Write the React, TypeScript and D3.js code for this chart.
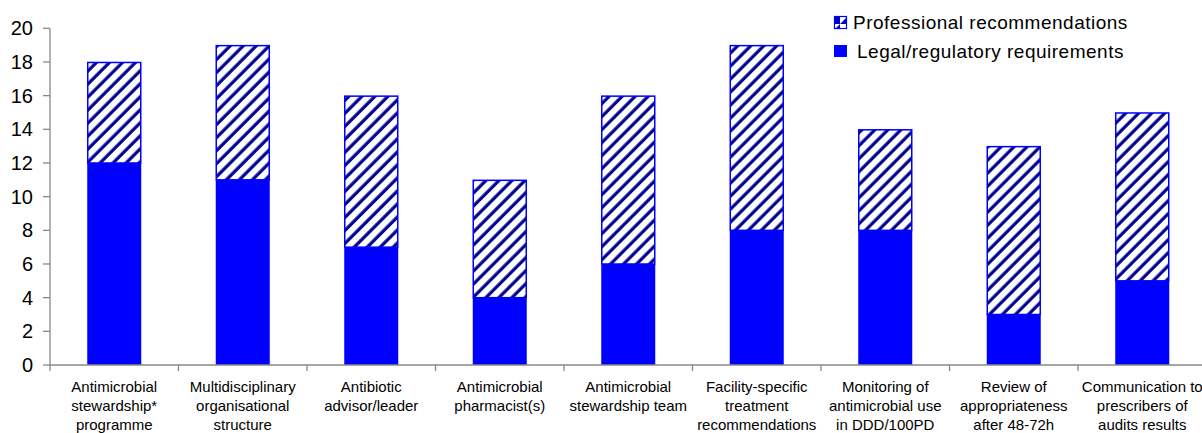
import React from "react";
import * as d3 from "d3";

const categories: string[][] = [
  ["Antimicrobial", "stewardship*", "programme"],
  ["Multidisciplinary", "organisational", "structure"],
  ["Antibiotic", "advisor/leader"],
  ["Antimicrobial", "pharmacist(s)"],
  ["Antimicrobial", "stewardship team"],
  ["Facility-specific", "treatment", "recommendations"],
  ["Monitoring of", "antimicrobial use", "in DDD/100PD"],
  ["Review of", "appropriateness", "after 48-72h"],
  ["Communication to", "prescribers of", "audits results"],
];
const legal: number[] = [12, 11, 7, 4, 6, 8, 8, 3, 5];
const professional: number[] = [6, 8, 9, 7, 10, 11, 6, 10, 10];
const yTicks: number[] = [0, 2, 4, 6, 8, 10, 12, 14, 16, 18, 20];
const seriesNames = ["Professional recommendations", "Legal/regulatory requirements"];

const W = 1202;
const H = 433;
const left = 50;
const bandW = 128.5;
const top = 28.3;
const bottom = 365;

export default function App() {
  const x = d3
    .scaleBand<number>()
    .domain(d3.range(categories.length))
    .range([left, left + bandW * categories.length])
    .paddingInner(0)
    .paddingOuter(0);
  const y = d3.scaleLinear().domain([0, 20]).range([bottom, top]);
  const barW = 54;
  const font = "Arial, 'Liberation Sans', sans-serif";

  return (
    <svg
      width={W}
      height={H}
      style={{ position: "absolute", left: 0, top: 0, display: "block" }}
      fontFamily={font}
    >
      <defs>
        <pattern
          id="hatch"
          patternUnits="userSpaceOnUse"
          width={9.2}
          height={9.2}
          patternTransform="rotate(45)"
        >
          <rect width={9.2} height={9.2} fill="#fff" />
          <line x1={2} y1={0} x2={2} y2={9.2} stroke="#000090" strokeWidth={3.2} />
        </pattern>
        <pattern
          id="hatchLegend"
          patternUnits="userSpaceOnUse"
          width={12}
          height={12}
        >
          <rect width={12} height={12} fill="#fff" />
          <path d="M0,12 L12,0 L12,12 Z" fill="#0000CC" />
        </pattern>
      </defs>

      {/* bars */}
      {categories.map((_, i) => {
        const cx = (x(i) as number) + x.bandwidth() / 2;
        const l = legal[i];
        const p = professional[i];
        return (
          <g key={i}>
            <rect
              x={cx - barW / 2}
              y={y(l)}
              width={barW}
              height={y(0) - y(l)}
              fill="#0000FF"
            />
            <rect
              x={cx - barW / 2 + 0.5}
              y={y(l + p) + 0.5}
              width={barW - 1}
              height={y(l) - y(l + p) - 0.5}
              fill="url(#hatch)"
              stroke="#0000FF"
              strokeWidth={1.5}
            />
          </g>
        );
      })}

      {/* y axis */}
      <line x1={left} y1={top} x2={left} y2={bottom} stroke="#888" strokeWidth={1.3} />
      {yTicks.map((t) => (
        <g key={t}>
          <line x1={left - 7} x2={left} y1={y(t)} y2={y(t)} stroke="#888" strokeWidth={1.3} />
          <text
            x={33}
            y={y(t)}
            dy="0.35em"
            textAnchor="end"
            fontSize={20}
            fill="#000"
          >
            {t}
          </text>
        </g>
      ))}

      {/* x axis */}
      <line x1={left} y1={bottom} x2={W} y2={bottom} stroke="#888" strokeWidth={1.3} />
      {d3.range(categories.length + 1).map((i) => {
        const bx = left + i * x.bandwidth();
        return (
          <line key={i} x1={bx} x2={bx} y1={bottom} y2={bottom + 6} stroke="#888" strokeWidth={1.3} />
        );
      })}
      {categories.map((lines, i) => {
        const cx = (x(i) as number) + x.bandwidth() / 2;
        return (
          <text key={i} textAnchor="middle" fontSize={15} fill="#000">
            {lines.map((ln, j) => (
              <tspan key={j} x={cx} y={392 + j * 19}>
                {ln}
              </tspan>
            ))}
          </text>
        );
      })}

      {/* legend */}
      <rect x={834.5} y={16.5} width={12} height={12} fill="url(#hatchLegend)" stroke="#0000FF" strokeWidth={1.2} />
      <text x={853} y={29} fontSize={19} letterSpacing={0.5} fill="#000">
        {seriesNames[0]}
      </text>
      <rect x={834} y={45} width={13} height={12} fill="#0000FF" />
      <text x={857} y={58} fontSize={19} letterSpacing={0.5} fill="#000">
        {seriesNames[1]}
      </text>
    </svg>
  );
}
